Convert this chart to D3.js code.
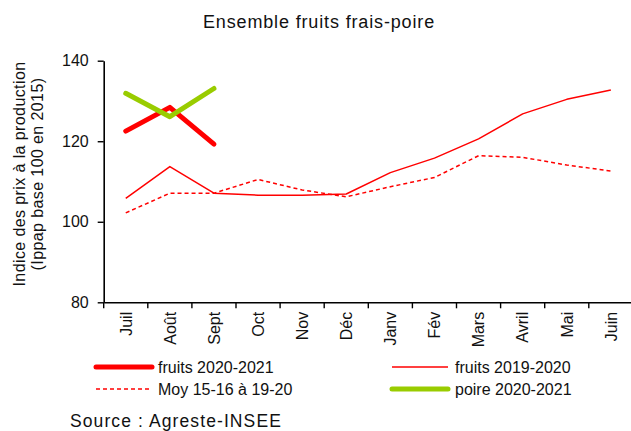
<!DOCTYPE html>
<html>
<head>
<meta charset="utf-8">
<script src="https://cdn.jsdelivr.net/npm/d3@7"></script>
<style>
  body { margin: 0; background: #fff; }
  svg { display: block; font-family: "Liberation Sans", Arial, sans-serif; }
</style>
</head>
<body>
<svg id="chart" width="631" height="431"></svg>
<script>
// categories (mois de campagne)
var months = ["Juil", "Août", "Sept", "Oct", "Nov", "Déc", "Janv", "Fév", "Mars", "Avril", "Mai", "Juin"];
var yTicks = [80, 100, 120, 140];

// series
var fruits2021 = [122.5, 128.4, 119.3];
var fruits2020 = [105.8, 113.7, 107.1, 106.6, 106.6, 106.9, 112.2, 115.8, 120.6, 126.8, 130.4, 132.7];
var moy5ans = [102.2, 107.1, 107.1, 110.5, 107.9, 106.2, 108.7, 111.0, 116.4, 116.0, 114.1, 112.6];
var poire2021 = [131.9, 126.1, 133.1];

var RED = "#ff0000", GREEN = "#99cc00";

var svg = d3.select("#chart");

var x = d3.scaleBand().domain(months).range([103.7, 632.9]).paddingInner(0).paddingOuter(0);
var y = d3.scaleLinear().domain([80, 140]).range([302.3, 60.7]);
var bw = x.bandwidth();

// title
svg.append("text")
    .attr("x", 319).attr("y", 28)
    .attr("text-anchor", "middle")
    .attr("font-size", 18).attr("letter-spacing", 0.85)
    .attr("fill", "#111")
    .text("Ensemble fruits frais-poire");

// y axis
var yAxis = svg.append("g")
    .attr("transform", "translate(103.7,0)")
    .call(d3.axisLeft(y).tickValues(yTicks).tickSize(6).tickSizeOuter(0).tickPadding(9));
yAxis.select(".domain").attr("stroke", "#000").attr("stroke-width", 1.6);
yAxis.selectAll(".tick line").attr("stroke", "#000").attr("stroke-width", 1.4);
yAxis.selectAll(".tick text").attr("font-size", 16).attr("fill", "#111")
    .attr("font-family", "Liberation Sans, Arial, sans-serif");

// x axis (ticks between categories, Excel style)
var xAxis = svg.append("g")
    .attr("transform", "translate(0,302.3)")
    .call(d3.axisBottom(x).tickSize(6).tickSizeOuter(0));
xAxis.select(".domain").attr("stroke", "#000").attr("stroke-width", 1.6);
xAxis.selectAll(".tick line").attr("x1", -bw / 2).attr("x2", -bw / 2)
    .attr("stroke", "#000").attr("stroke-width", 1.4);
xAxis.selectAll(".tick text")
    .attr("font-size", 16).attr("fill", "#111")
    .attr("font-family", "Liberation Sans, Arial, sans-serif")
    .attr("text-anchor", "end")
    .attr("transform", "rotate(-90)")
    .attr("x", -9.5).attr("y", 0).attr("dy", "0.36em");

// y axis title
var yTitle = svg.append("text")
    .attr("transform", "translate(0,174) rotate(-90)")
    .attr("text-anchor", "middle")
    .attr("font-size", 16).attr("letter-spacing", 0.4)
    .attr("fill", "#111");
yTitle.append("tspan").attr("x", 0).attr("y", 25).text("Indice des prix à la production");
yTitle.append("tspan").attr("x", 0).attr("y", 43).text("(Ippap base 100 en 2015)");

var cx = function (d, i) { return x(months[i]) + bw / 2; };
var line = d3.line().x(cx).y(function (d) { return y(d); });

function drawSeries(data, color, width, dash) {
    svg.append("path")
        .datum(data)
        .attr("fill", "none")
        .attr("stroke", color)
        .attr("stroke-width", width)
        .attr("stroke-linecap", width > 3 ? "round" : "butt")
        .attr("stroke-linejoin", "round")
        .attr("stroke-dasharray", dash || null)
        .attr("d", line);
}

drawSeries(moy5ans, RED, 1.5, "4,3");
drawSeries(fruits2020, RED, 1.5);
drawSeries(fruits2021, RED, 5);
drawSeries(poire2021, GREEN, 5);

// legend
var legend = [
    { label: "fruits 2020-2021", color: RED, w: 5, dash: null, x: 96, y: 367 },
    { label: "fruits 2019-2020", color: RED, w: 1.5, dash: null, x: 392, y: 367 },
    { label: "Moy 15-16 à 19-20", color: RED, w: 1.5, dash: "4,3", x: 96, y: 389 },
    { label: "poire 2020-2021", color: GREEN, w: 5, dash: null, x: 392, y: 389 }
];
var lg = svg.selectAll("g.leg").data(legend).enter().append("g")
    .attr("class", "leg")
    .attr("transform", function (d) { return "translate(" + d.x + "," + d.y + ")"; });
lg.append("line")
    .attr("x1", 0).attr("x2", 56).attr("y1", 0).attr("y2", 0)
    .attr("stroke", function (d) { return d.color; })
    .attr("stroke-width", function (d) { return d.w; })
    .attr("stroke-linecap", function (d) { return d.w > 3 ? "round" : "butt"; })
    .attr("stroke-dasharray", function (d) { return d.dash; });
lg.append("text")
    .attr("x", function (d) { return d.x < 300 ? 62 : 63; })
    .attr("y", 5.5)
    .attr("font-size", 16).attr("fill", "#111")
    .text(function (d) { return d.label; });

// source
svg.append("text")
    .attr("x", 70).attr("y", 427)
    .attr("font-size", 17.5).attr("letter-spacing", 1.1)
    .attr("fill", "#111")
    .text("Source : Agreste-INSEE");
</script>
</body>
</html>
